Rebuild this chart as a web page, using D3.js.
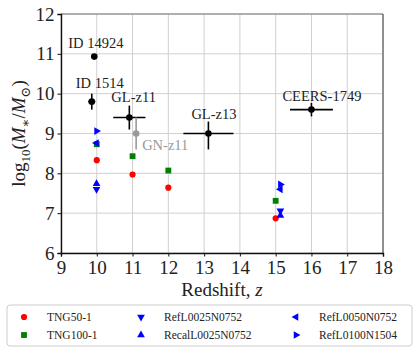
<!DOCTYPE html>
<html>
<head>
<meta charset="utf-8">
<script src="https://cdn.jsdelivr.net/npm/d3@7"></script>
<style>
  body { margin: 0; background: #fff; }
  svg { display: block; }
  text { font-family: "Liberation Serif", "DejaVu Serif", serif; }
</style>
</head>
<body>
<svg id="chart" width="415" height="353"></svg>
<script>
// observed galaxies
const obsNames = ["ID 14924", "ID 1514", "GL-z11", "GN-z11", "GL-z13", "CEERS-1749"];
const obsZ = [9.93, 9.86, 10.91, 11.1, 13.12, 16.0];
const obsM = [10.93, 9.8, 9.4, 9.0, 9.0, 9.6];
const obsZerr = [0, 0.1, 0.45, 0, 0.7, 0.6];
const obsMup = [0, 0.2, 0.3, 0.4, 0.3, 0.17];
const obsMlo = [0, 0.2, 0.3, 0.4, 0.4, 0.17];

// IllustrisTNG
const tngZ = [10, 11, 12, 15];
const tng50 = [8.33, 7.97, 7.64, 6.87];
const tng100 = [8.73, 8.43, 8.07, 7.31];

// EAGLE
const eagleZ = [9.993, 15.132];
const refL25 = [7.6, 7.06];
const recalL25 = [7.74, 6.94];
const refL50 = [8.76, 7.6];
const refL100 = [9.06, 7.72];

const xTicks = d3.range(9, 19);
const yTicks = d3.range(6, 13);

const svg = d3.select("#chart");
const pLeft = 61, pRight = 383, pTop = 14, pBottom = 253;
const x = d3.scaleLinear().domain([9, 18]).range([pLeft, pRight]);
const y = d3.scaleLinear().domain([6, 12]).range([pBottom, pTop]);

// grid
svg.append("g").selectAll("line").data(xTicks).join("line")
  .attr("x1", d => x(d)).attr("x2", d => x(d))
  .attr("y1", pTop).attr("y2", pBottom)
  .attr("stroke", "#d0d0d0").attr("stroke-width", 1);
svg.append("g").selectAll("line").data(yTicks).join("line")
  .attr("x1", pLeft).attr("x2", pRight)
  .attr("y1", d => y(d)).attr("y2", d => y(d))
  .attr("stroke", "#d0d0d0").attr("stroke-width", 1);

// frame
svg.append("line").attr("x1", pLeft).attr("x2", pRight).attr("y1", pTop).attr("y2", pTop)
  .attr("stroke", "#777").attr("stroke-width", 1.2);
svg.append("line").attr("x1", pRight).attr("x2", pRight).attr("y1", pTop).attr("y2", pBottom)
  .attr("stroke", "#555").attr("stroke-width", 1.2);

// axes
const xAxis = svg.append("g").attr("transform", `translate(0,${pBottom})`)
  .call(d3.axisBottom(x).tickValues(xTicks).tickFormat(d3.format("d")).tickSizeOuter(0).tickSize(3.5).tickPadding(4));
const yAxis = svg.append("g").attr("transform", `translate(${pLeft},0)`)
  .call(d3.axisLeft(y).tickValues(yTicks).tickFormat(d3.format("d")).tickSizeOuter(0).tickSize(3.5).tickPadding(3));
[xAxis, yAxis].forEach(a => {
  a.attr("font-family", null);
  a.select(".domain").attr("stroke", "#111").attr("stroke-width", 1.4);
  a.selectAll(".tick line").attr("stroke", "#111");
  a.selectAll(".tick text").attr("font-size", 19).attr("fill", "#222");
});

// axis labels
svg.append("text").attr("x", (pLeft + pRight) / 2).attr("y", 296)
  .attr("text-anchor", "middle").attr("font-size", 19).attr("fill", "#222")
  .html('Redshift, <tspan font-style="italic">z</tspan>');
const yl = svg.append("text").attr("transform", `translate(25,${(pTop + pBottom) / 2}) rotate(-90)`)
  .attr("text-anchor", "middle").attr("font-size", 19).attr("fill", "#222");
yl.append("tspan").text("log");
yl.append("tspan").attr("font-size", 13).attr("dy", 5).text("10");
yl.append("tspan").attr("dy", -5).text("(");
yl.append("tspan").attr("font-style", "italic").text("M");
yl.append("tspan").attr("font-size", 13).attr("dy", 5).text("∗");
yl.append("tspan").attr("dy", -5).text("/");
yl.append("tspan").attr("font-style", "italic").text("M");
yl.append("tspan").attr("font-size", 13).attr("dy", 5).text("⊙");
yl.append("tspan").attr("dy", -5).text(")");

// symbols
const sym = {
  circle: d3.symbol().type(d3.symbolCircle).size(30),
  square: d3.symbol().type(d3.symbolSquare).size(34),
  tri: d3.symbol().type(d3.symbolTriangle).size(26)
};
const rot = { down: 180, up: 0, left: -90, right: 90 };

function drawSeries(zs, vals, shape, color, angle) {
  svg.append("g").selectAll("path").data(zs.map((z, i) => [z, vals[i]])).join("path")
    .attr("d", sym[shape])
    .attr("transform", d => `translate(${x(d[0])},${y(d[1])}) rotate(${angle || 0})`)
    .attr("fill", color);
}

drawSeries(tngZ, tng50, "circle", "#ff0000");
drawSeries(tngZ, tng100, "square", "#008000");
drawSeries(eagleZ, refL25, "tri", "#0000ff", rot.down);
drawSeries(eagleZ, recalL25, "tri", "#0000ff", rot.up);
drawSeries(eagleZ, refL50, "tri", "#0000ff", rot.left);
drawSeries(eagleZ, refL100, "tri", "#0000ff", rot.right);

// observations
const obs = obsNames.map((n, i) => ({
  name: n, z: obsZ[i], m: obsM[i], ze: obsZerr[i], up: obsMup[i], lo: obsMlo[i],
  color: n === "GN-z11" ? "#999999" : "#000000"
}));
const labelOffset = {
  "ID 14924": [-26, -9], "ID 1514": [-16, -14], "GL-z11": [-18, -16],
  "GN-z11": [6, 16], "GL-z13": [-17, -15], "CEERS-1749": [-29, -9]
};
const og = svg.append("g").selectAll("g").data(obs).join("g");
og.filter(d => d.ze > 0).append("line")
  .attr("x1", d => x(d.z - d.ze)).attr("x2", d => x(d.z + d.ze))
  .attr("y1", d => y(d.m)).attr("y2", d => y(d.m))
  .attr("stroke", d => d.color).attr("stroke-width", 1.6);
og.filter(d => d.up > 0).append("line")
  .attr("x1", d => x(d.z)).attr("x2", d => x(d.z))
  .attr("y1", d => y(d.m + d.up)).attr("y2", d => y(d.m - d.lo))
  .attr("stroke", d => d.color).attr("stroke-width", 1.6);
og.append("circle").attr("cx", d => x(d.z)).attr("cy", d => y(d.m)).attr("r", 3.3)
  .attr("fill", d => d.color);
og.append("text")
  .attr("x", d => x(d.z) + labelOffset[d.name][0])
  .attr("y", d => y(d.m) + labelOffset[d.name][1])
  .attr("font-size", 14.5).attr("fill", d => d.color === "#000000" ? "#222" : "#999")
  .text(d => d.name);

// legend
const legend = svg.append("g");
legend.append("rect").attr("x", 7).attr("y", 305).attr("width", 405).attr("height", 41)
  .attr("rx", 3).attr("fill", "#fff").attr("stroke", "#ccc").attr("stroke-width", 1);
const legendItems = [
  { label: "TNG50-1", shape: "circle", color: "#ff0000", a: 0, col: 0, row: 0 },
  { label: "TNG100-1", shape: "square", color: "#008000", a: 0, col: 0, row: 1 },
  { label: "RefL0025N0752", shape: "tri", color: "#0000ff", a: rot.down, col: 1, row: 0 },
  { label: "RecalL0025N0752", shape: "tri", color: "#0000ff", a: rot.up, col: 1, row: 1 },
  { label: "RefL0050N0752", shape: "tri", color: "#0000ff", a: rot.left, col: 2, row: 0 },
  { label: "RefL0100N1504", shape: "tri", color: "#0000ff", a: rot.right, col: 2, row: 1 }
];
const colMarker = [24, 141, 296], colText = [47, 164, 319], rowY = [317, 335];
const li = legend.selectAll("g").data(legendItems).join("g");
li.append("path").attr("d", d => sym[d.shape]())
  .attr("transform", d => `translate(${colMarker[d.col]},${rowY[d.row]}) rotate(${d.a})`)
  .attr("fill", d => d.color);
li.append("text").attr("x", d => colText[d.col]).attr("y", d => rowY[d.row] + 4)
  .attr("font-size", 11.5).attr("fill", "#222").text(d => d.label);
</script>
</body>
</html>
